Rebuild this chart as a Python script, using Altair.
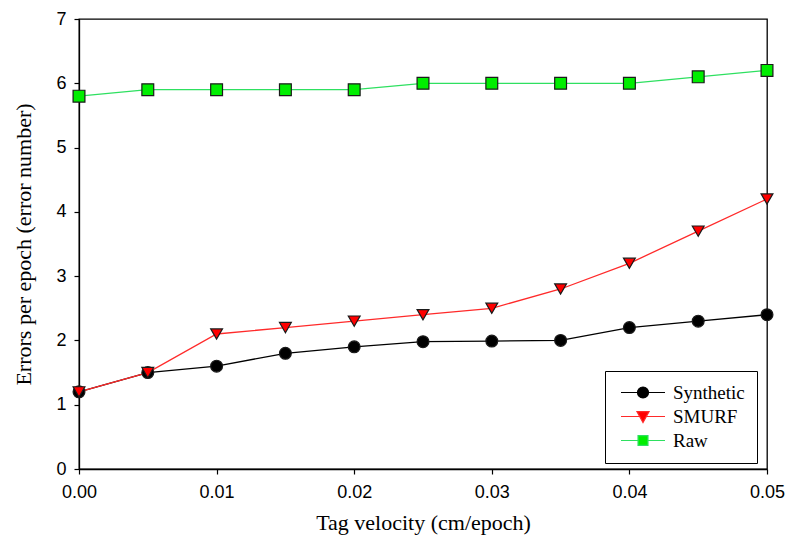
import altair as alt
import pandas as pd

velocity = [0.000, 0.005, 0.010, 0.015, 0.020, 0.025, 0.030, 0.035, 0.040, 0.045, 0.050]
synthetic = [1.2, 1.5, 1.6, 1.8, 1.9, 1.98, 1.99, 2.0, 2.2, 2.3, 2.4]
smurf = [1.2, 1.5, 2.1, 2.2, 2.3, 2.4, 2.5, 2.8, 3.2, 3.7, 4.2]
raw = [5.8, 5.9, 5.9, 5.9, 5.9, 6.0, 6.0, 6.0, 6.0, 6.1, 6.2]
series_names = ["Synthetic", "SMURF", "Raw"]
x_ticks = [0.0, 0.01, 0.02, 0.03, 0.04, 0.05]
y_ticks = [0, 1, 2, 3, 4, 5, 6, 7]

rows = []
for name, vals in zip(series_names, [synthetic, smurf, raw]):
    for v, e in zip(velocity, vals):
        rows.append({"velocity": v, "errors": e, "series": name})
df = pd.DataFrame(rows)

line_colors = ["#000000", "#ff2a2a", "#2ee060"]
fill_colors = ["#000000", "#ff0000", "#00ee00"]
plot_shapes = ["circle", "triangle-down", "square"]
legend_paths = [
    "M-1,0L2,0M4,0L7,0M2,0A1,1 0 1,1 4,0A1,1 0 1,1 2,0Z",
    "M-1,0L2.4,0M3.6,0L7,0M1.9,-0.9L4.1,-0.9L3,1.1Z",
    "M-1,0L2.1,0M3.9,0L7,0M2.1,-0.9L3.9,-0.9L3.9,0.9L2.1,0.9Z",
]

x_enc = alt.X(
    "velocity:Q",
    scale=alt.Scale(domain=[0, 0.05], nice=False),
    axis=alt.Axis(values=x_ticks, format=".2f", title="Tag velocity (cm/epoch)"),
)
y_enc = alt.Y(
    "errors:Q",
    scale=alt.Scale(domain=[0, 7], nice=False),
    axis=alt.Axis(values=y_ticks, format="d", title="Errors per epoch (error number)"),
)

base = alt.Chart(df)

lines = base.mark_line(strokeWidth=1.3).encode(
    x=x_enc,
    y=y_enc,
    stroke=alt.Stroke("series:N", scale=alt.Scale(domain=series_names, range=line_colors), legend=None),
    detail="series:N",
)

points = base.mark_point(filled=True, opacity=1, stroke="#1a1a1a", strokeWidth=1.2, size=140).encode(
    x=x_enc,
    y=y_enc,
    shape=alt.Shape("series:N", scale=alt.Scale(domain=series_names, range=plot_shapes), legend=None),
    fill=alt.Fill("series:N", scale=alt.Scale(domain=series_names, range=fill_colors), legend=None),
)

legend_kw = dict(
    title=None,
    orient="none",
    legendX=526,
    legendY=352,
    strokeColor="#000000",
    padding=12,
    labelFont="Liberation Serif",
    labelFontSize=19,
    labelColor="#000000",
    labelOffset=37,
    rowPadding=4,
    symbolSize=121,
    symbolStrokeWidth=1.2,
)

legend_layer = base.transform_filter("false").mark_point(filled=True, opacity=1, size=121).encode(
    x=x_enc,
    y=y_enc,
    shape=alt.Shape("series:N", scale=alt.Scale(domain=series_names, range=legend_paths), legend=alt.Legend(**legend_kw)),
    fill=alt.Fill("series:N", scale=alt.Scale(domain=series_names, range=fill_colors), legend=alt.Legend(**legend_kw)),
    stroke=alt.Stroke("series:N", scale=alt.Scale(domain=series_names, range=line_colors), legend=alt.Legend(**legend_kw)),
)

chart = (
    alt.layer(lines, points, legend_layer)
    .resolve_scale(shape="independent", fill="independent", stroke="independent")
    .properties(
        width=688,
        height=450,
        autosize=alt.AutoSizeParams(type="none"),
        padding={"left": 71, "top": 11, "right": 18, "bottom": 67},
    )
    .configure_view(stroke="#000000", strokeWidth=1.3)
    .configure_axis(
        grid=False,
        domainColor="#000000",
        domainWidth=1.3,
        tickColor="#000000",
        tickSize=5,
        tickWidth=1.2,
        labelFont="Liberation Sans",
        labelFontSize=18,
        labelColor="#000000",
        titleFont="Liberation Serif",
        titleFontSize=22,
        titleFontWeight="normal",
        titleColor="#000000",
    )
    .configure_axisX(labelPadding=9, titlePadding=11, labelFlush=False)
    .configure_axisY(labelPadding=8, titlePadding=20)
)

chart.save("out.html", embed_options={"renderer": "svg", "actions": False})
